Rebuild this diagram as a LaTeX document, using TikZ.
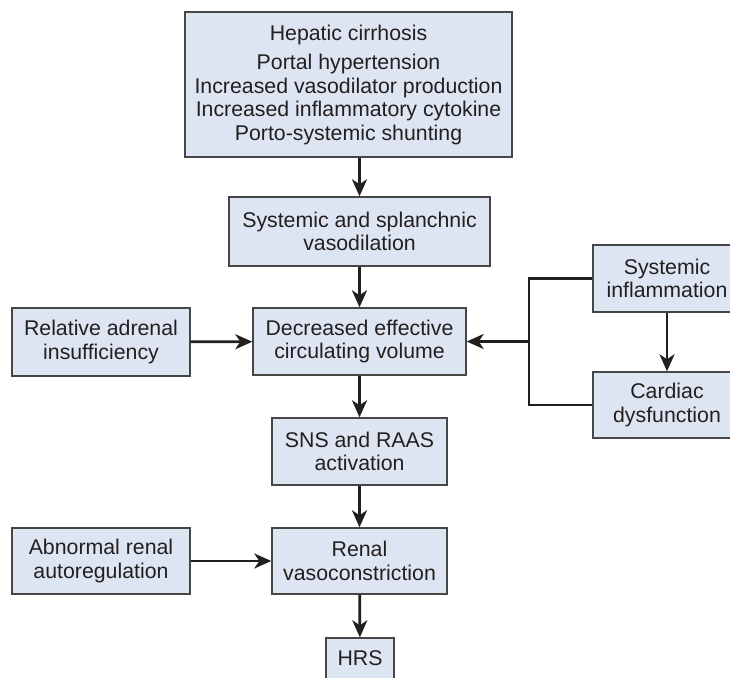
\documentclass[tikz,border=0pt]{standalone}
\usepackage{fontspec}
\setmainfont{Liberation Sans}
\usetikzlibrary{arrows.meta,calc}

\definecolor{boxfill}{RGB}{221,229,242}
\definecolor{boxline}{RGB}{70,70,70}
\definecolor{inkline}{RGB}{35,31,32}

\begin{document}
\begin{tikzpicture}[x=1pt, y=-1pt,
    box/.style={draw=boxline, line width=1.4pt, fill=boxfill, text=inkline, align=center, inner sep=0pt, font=\fontsize{21.3}{23.5}\selectfont},
    flow/.style={draw=inkline, line width=2.7pt, -{Stealth[length=17pt, width=15pt, inset=5pt]}},
    link/.style={draw=inkline, line width=2.7pt}]
    \useasboundingbox (0,0) rectangle (730,677);
    % main chain
    \node[box, minimum width=327, minimum height=145](hep)at(348.5,84.5){Hepatic cirrhosis\\[6pt]Portal hypertension\\Increased vasodilator production\\Increased inflammatory cytokine\\Porto-systemic shunting};
    \node[box, minimum width=261, minimum height=69](sys)at(359.5,231.5){Systemic and splanchnic\\vasodilation};
    \node[box, minimum width=213, minimum height=67](dec)at(359.5,341.5){Decreased effective\\circulating volume};
    \node[box, minimum width=175, minimum height=67](sns)at(359.5,451.5){SNS and RAAS\\activation};
    \node[box, minimum width=175, minimum height=66](ren)at(359.5,561){Renal\\vasoconstriction};
    \node[box, minimum width=68, minimum height=41](hrs)at(360,658.5){HRS};
    % side causes
    \node[box, minimum width=178, minimum height=68](adr)at(101,342){Relative adrenal\\insufficiency};
    \node[box, minimum width=178, minimum height=66](abn)at(101,561){Abnormal renal\\autoregulation};
    \node[box, minimum width=148, minimum height=67](inf)at(667,278.5){Systemic\\inflammation};
    \node[box, minimum width=148, minimum height=66](card)at(667,405){Cardiac\\dysfunction};
    % arrows
    \path[flow](hep.south -| sys.north)to(sys.north);
    \path[flow](sys)to(dec);
    \path[flow](dec)to(sns);
    \path[flow](sns)to(ren);
    \path[flow](ren)to(hrs);
    \path[flow](adr)to(dec);
    \path[flow](abn)to(ren);
    \path[flow](inf)to(card);
    % bracket
    \coordinate(jn)at(529,341.5);
    \path[link](inf.west)-|(jn)|-(card.west);
    \path[flow](jn)to(dec.east);
\end{tikzpicture}
\end{document}
